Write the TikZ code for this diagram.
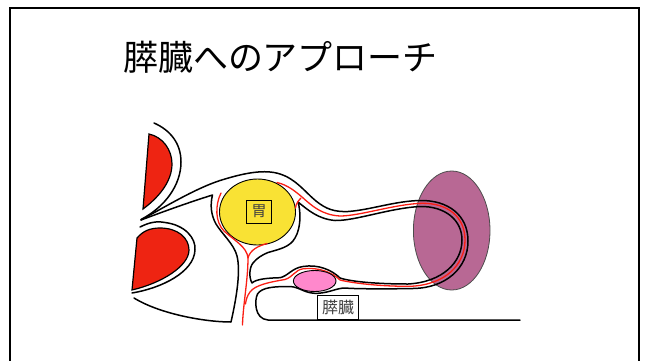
\documentclass[tikz,border=0pt]{standalone}
\usepackage{fontspec}
\usetikzlibrary{shapes.geometric}
\newfontfamily\jp{Noto Sans CJK JP}
\definecolor{organred}{RGB}{238,36,18}
\definecolor{vesselred}{RGB}{250,30,20}
\definecolor{stomachyellow}{RGB}{249,226,52}
\definecolor{spleenpurple}{RGB}{184,104,148}
\definecolor{pancpink}{RGB}{255,136,204}
\begin{document}
\begin{tikzpicture}[x=1pt,y=-1pt,
  ln/.style={draw=black,line width=1.5pt,line join=round,line cap=round},
  vessel/.style={draw=vesselred,line width=1.3pt,line cap=round,line join=round},
  organ/.style={draw=black,line width=0.9pt},
  lbl/.style={draw=black,line width=0.8pt,inner sep=0pt,text=black!75,font=\jp\fontsize{15}{15}\selectfont}]
\useasboundingbox (0,0) rectangle (646,360);
% frame
\draw[line width=2pt] (9.5,365) -- (9.5,7.5) -- (638.5,7.5) -- (638.5,365);
% title
\node[font=\jp\fontsize{35}{35}\selectfont,anchor=center] (title) at (280.5,57) {膵臓へのアプローチ};
% spleen
\node[ellipse,draw=black!70,line width=0.8pt,fill=spleenpurple,minimum width=76.6pt,minimum height=119pt,inner sep=0pt] (spleen) at (451.7,230.5) {};
% upper red organ
\path[fill=organred,draw=black,line width=1.2pt] (143,209) -- (149,134) .. controls (163,137) and (172,150) .. (172,164) .. controls (172,182) and (158,198) .. (143,209) -- cycle;
% lower red organ
\path[fill=organred,draw=black,line width=1.2pt] (132,290) -- (137,238) .. controls (143,231) and (150,228) .. (160,228) .. controls (178,228) and (189,238) .. (189,250) .. controls (189,266) and (162,283) .. (132,290) -- cycle;
% outlines around red organs
\draw[ln] (154,123) .. controls (170,130) and (181,143) .. (181,162) .. controls (181,185) and (165,207) .. (141,219.5);
\draw[ln] (140,227) .. controls (150,222) and (157,221) .. (165,222.5) .. controls (185,225) and (196,238) .. (195,250) .. controls (194,272) and (162,288) .. (132,293);
% lower wedge edge + left wall + bottom curve
\draw[ln] (141,220) .. controls (165,211) and (190,202) .. (212.5,195) .. controls (210,205) and (211,215) .. (216,224) .. controls (222,234) and (234,244) .. (237,256) .. controls (241,272) and (236,300) .. (231,322) .. controls (205,322) and (160,314) .. (134,298);
% outer line: wedge top, over stomach, band, loop, under pancreas, base line
\draw[ln] (141,220) .. controls (170,204) and (200,186) .. (225,179) .. controls (245,173) and (265,169) .. (280,174) .. controls (296,179) and (305,192) .. (316,201) .. controls (326,209) and (334,212) .. (348,211.5) .. controls (370,210) and (395,201) .. (420,200.5) .. controls (448,200) and (468,215) .. (468,241) .. controls (468,268) and (446,288) .. (413,288.5) .. controls (390,289) and (355,289) .. (345,288) .. controls (337,288) and (330,292.5) .. (318,293.3) .. controls (305,294) and (300,287) .. (290,286.5) .. controls (275,286.5) and (262,287) .. (257.5,294) .. controls (254.5,300) and (254,319) .. (268,320) -- (520,320);
% inner line (lesser sac)
\draw[ln] (298,202) .. controls (308,210) and (318,219) .. (335,220.5) .. controls (355,221) and (390,208) .. (420,206.5) .. controls (445,206) and (462,220) .. (462,240) .. controls (462,262) and (443,282) .. (408,284) .. controls (380,284) and (352,282) .. (340,278) .. controls (332,270) and (318,264) .. (303,266.5) .. controls (292,268) and (288,276) .. (280,277.7) .. controls (268,278) and (256,279) .. (252,283) .. controls (249,278) and (249,268) .. (253,263) .. controls (257,258) and (262,255) .. (268,252.5) .. controls (280,249) and (290,247) .. (295,238) .. controls (301,228) and (301,212) .. (298,202);
% stomach
\node[ellipse,organ,fill=stomachyellow,minimum width=76pt,minimum height=66pt,inner sep=0pt] (stomach) at (257.5,212) {};
\node[lbl,minimum width=25pt,minimum height=23pt] (stomachlbl) at (259,211.5) {胃};
% vessels
\draw[vessel] (221,193) .. controls (215,205) and (215,222) .. (224,231) .. controls (235,241) and (247,247) .. (248,258) .. controls (248,280) and (243,305) .. (242.5,325);
\draw[vessel] (267,243.5) .. controls (258,246) and (250,250) .. (248,258);
\draw[vessel] (277,182.5) .. controls (288,185) and (296,192) .. (302,197) .. controls (312,206) and (322,215) .. (340,216) .. controls (360,216) and (395,204) .. (422,203.3) .. controls (448,203) and (465,217) .. (465,240) .. controls (465,265) and (445,285) .. (410,286.3) .. controls (380,286.5) and (352,283) .. (340,280) .. controls (332,272) and (318,267) .. (303,268.8) .. controls (295,270) and (293,277) .. (285,279.5) .. controls (270,282) and (255,285) .. (250,292) .. controls (247,296) and (246,300) .. (245.5,304);
\draw[vessel] (301,198) .. controls (298,201) and (296,204) .. (295.5,208);
% pancreas
\node[ellipse,organ,fill=pancpink,minimum width=42.6pt,minimum height=21pt,inner sep=0pt] (pancreas) at (314.7,281) {};
\node[lbl,fill=white,minimum width=41pt,minimum height=24pt,font=\jp\fontsize{16}{16}\selectfont] (pancreaslbl) at (338,307) {膵臓};
\end{tikzpicture}
\end{document}
